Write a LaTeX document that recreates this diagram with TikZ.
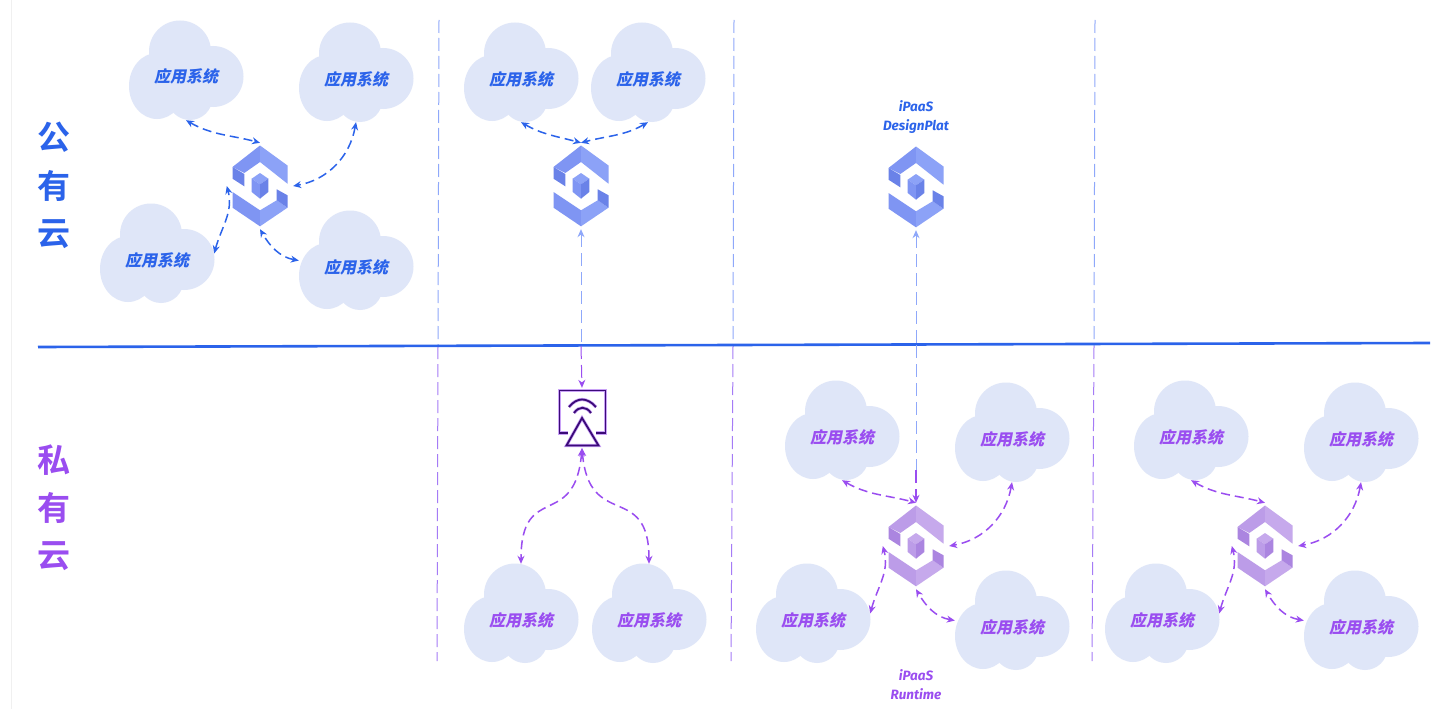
\documentclass[tikz,border=0pt]{standalone}
\usepackage{fontspec}
\usepackage{tikz}
\usetikzlibrary{arrows.meta}
\newfontfamily\cjkit[FakeSlant=0.2]{Noto Sans CJK SC}
\newfontfamily\cjkbf{Noto Sans CJK SC Bold}
\newfontfamily\latinit{Fira Sans}
\definecolor{pubblue}{HTML}{2B63EA}
\definecolor{privpurple}{HTML}{9A4DF0}
\definecolor{cloudfill}{HTML}{DFE6F8}
\definecolor{divblue}{HTML}{8FA8FA}
\definecolor{divpurple}{HTML}{A57BF6}
\definecolor{gatedark}{HTML}{3B0A78}
\definecolor{gateglow}{HTML}{C9A2F6}
\definecolor{pubhubA}{HTML}{7F95F3}
\definecolor{pubhubB}{HTML}{8CA2F7}
\definecolor{pubhubC}{HTML}{6A82E8}
\definecolor{privhubA}{HTML}{BC9CE8}
\definecolor{privhubB}{HTML}{C6A9EC}
\definecolor{privhubC}{HTML}{AB85E0}
\tikzset{
  tipsmall/.style={>={Stealth[length=8pt,width=7pt]}},
  syslabel/.style={inner sep=0, minimum width=114pt, text height=62pt, text depth=37pt, font=\cjkit\fontsize{16}{18}\selectfont\bfseries},
  hubbox/.style={inner sep=0, minimum width=66pt, minimum height=86pt},
  link/.style={<->, tipsmall, dash pattern=on 9pt off 5pt, line width=1.5pt},
  uplink/.style={tipsmall, dash pattern=on 13pt off 6pt, line width=1pt},
  divline/.style={dash pattern=on 13pt off 5pt, line width=1pt},
  sidelabel/.style={font=\cjkbf\fontsize{33}{35}\selectfont},
  tag/.style={align=center, font=\latinit\bfseries\itshape\fontsize{13.5}{19}\selectfont}
}
% cloud with its name, centred on the middle of the outline
\newcommand{\syscloud}[3]{
  \begin{scope}[shift={(#2)}]
    \fill[cloudfill] (-6,-19) circle [radius=31];
    \fill[cloudfill] (-29,15.5) ellipse [x radius=28, y radius=33];
    \fill[cloudfill] (27,6) circle [radius=30.5];
    \fill[cloudfill] (4,27) circle [radius=22.5];
    \fill[cloudfill] (0,5) ellipse [x radius=38, y radius=38];
  \end{scope}
  \node[syslabel, text=#3] (#1) at (#2) {应用系统};
}
% hexagon logo, #3 is pubhub or privhub
\newcommand{\hublogo}[3]{
  \begin{scope}[shift={(#2)}]
    \fill[#3A] (-27.5,-19) -- (0,-40.5) -- (0,-24) -- (-15.7,-13) -- cycle;
    \fill[#3B] (0,-40.5) -- (27.5,-20.5) -- (27.5,-2.3) -- (0,-24) -- cycle;
    \fill[#3C] (-27.5,-19) -- (-15.7,-12) -- (-15.7,0.3) -- (-27.5,-7.3) -- cycle;
    \fill[#3A] (-27.5,6) -- (0,24.3) -- (0,40.3) -- (-27.5,21.7) -- cycle;
    \fill[#3B] (0,24.3) -- (16.7,14.3) -- (27.5,21.7) -- (0,40.3) -- cycle;
    \fill[#3C] (16.7,3.3) -- (27.5,9.3) -- (27.5,21.7) -- (16.7,14.3) -- cycle;
    \fill[#3B] (0,-13) -- (8.3,-7.3) -- (0,-1.7) -- (-8.3,-7.3) -- cycle;
    \fill[#3A] (-8.3,-7.3) -- (0,-1.7) -- (0,12.7) -- (-8.3,6) -- cycle;
    \fill[#3C] (8.3,-7.3) -- (0,-1.7) -- (0,12.7) -- (8.3,6) -- cycle;
  \end{scope}
  \node[hubbox] (#1) at (#2) {};
}
\begin{document}
\begin{tikzpicture}[x=1pt, y=-1pt]
  \useasboundingbox (0,0) rectangle (1433,709);
  \fill[white] (0,0) rectangle (1433,709);
  \draw[black!6, line width=1.5pt] (11.5,0) -- (11.5,709);

  % dividers
  \coordinate (sepl) at (38,347);
  \coordinate (sepr) at (1430,343);
  \foreach \n/\xt/\xb in {a/439/437, b/734/731, c/1095/1092} {
    \coordinate (\n-t) at (\xt,20);
    \coordinate (\n-m) at (\xt-1,346);
    \coordinate (\n-b) at (\xb,661);
    \draw[divline, divblue] (\n-t) -- (\n-m);
    \draw[divline, divpurple] (\n-m) -- (\n-b);
  }
  \draw[pubblue, line width=2.6pt] (sepl) -- (sepr);

  \foreach \c/\y in {公/137.5, 有/185.5, 云/234.5} \node[sidelabel, text=pubblue] (pub\c) at (54,\y) {\c};
  \foreach \c/\y in {私/460, 有/507.5, 云/556} \node[sidelabel, text=privpurple] (priv\c) at (54,\y) {\c};

  % four clouds round a hub
  \foreach \k/\sx/\sy/\col/\hub in {p/0/0/pubblue/pubhub, q/656/360/privpurple/privhub, r/1005/360/privpurple/privhub} {
    \syscloud{\k c1}{\sx+186,\sy+70.5}{\col}
    \syscloud{\k c2}{\sx+356,\sy+72.5}{\col}
    \syscloud{\k c3}{\sx+157,\sy+253.5}{\col}
    \syscloud{\k c4}{\sx+356,\sy+260.5}{\col}
    \hublogo{\k hub}{\sx+260,\sy+186}{\hub}
    \path[link, \col]
    (\k c1.south) edge[out=-30,in=165] (\k hub.north)
    (\k c2.south) edge[out=-100,in=10] (\k hub.east)
    (\k c3.east) edge[out=75,in=-75] (\k hub.west)
    (\k c4.west) edge[out=170,in=-60] (\k hub.south)
    ;
  }

  % second column
  \syscloud{mc1}{521,72.5}{pubblue}
  \syscloud{mc2}{648,72.5}{pubblue}
  \hublogo{mhub}{581,186}{pubhub}
  \path[link, pubblue]
  (mc1.south) edge[out=-30,in=165] (mhub.north)
  (mc2.south) edge[out=-150,in=15] (mhub.north)
  ;
  \syscloud{mc3}{521,613.5}{privpurple}
  \syscloud{mc4}{649,613.5}{privpurple}
  \node[inner sep=0, minimum width=48pt, minimum height=60pt] (gate) at (582,418) {};
  \foreach \col/\lw in {gateglow/3.2pt, gatedark/1.8pt} {
    \draw[\col, line width=\lw] (568,433) -- (559.5,433) -- (559.5,390.5) -- (605.5,390.5) -- (605.5,433) -- (596,433);
    \draw[\col, line width=\lw, line join=miter] (582,418) -- (566.5,445.5) -- (598.5,445.5) -- cycle;
    \draw[\col, line width=\lw] (569,407) .. controls (577,397) and (587,397) .. (596,407);
    \draw[\col, line width=\lw] (574,413) .. controls (579,406) and (586,406) .. (591,413);
  }
  \draw[link, privpurple] (gate.south) .. controls +(-7,83) and +(0,-83) .. (mc3.north);
  \draw[link, privpurple] (gate.south) .. controls +(7,83) and +(0,-83) .. (mc4.north);
  \coordinate (mcross) at (mhub.south |- 0,346);
  \draw[uplink, divblue, <-] (mhub.south) -- (mcross);
  \draw[uplink, privpurple, ->] (mcross) -- (gate.north);

  % third column
  \hublogo{dhub}{916,187}{pubhub}
  \node[tag, text=pubblue] (dtag) at (916,117.5) {iPaaS\\DesignPlat};
  \node[tag, text=privpurple] (rtag) at (916,684.5) {iPaaS\\Runtime};
  \coordinate (dcross) at (dhub.south |- 0,345);
  \coordinate (dturn) at (dhub.south |- 0,470);
  \draw[uplink, divblue, <-] (dhub.south) -- (dcross);
  \draw[uplink, divblue] (dcross) -- (dturn);
  \draw[uplink, privpurple, ->, line width=1.2pt] (dturn) -- (qhub.north);
\end{tikzpicture}
\end{document}
